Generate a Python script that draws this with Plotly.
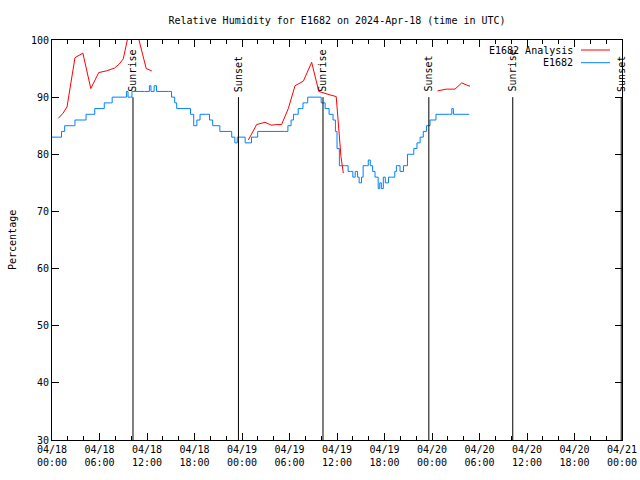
import plotly.graph_objects as go

# Hours since 2024-04-18 00:00 UTC
obs_hours = [0, 0.8, 1.2, 1.6, 2.7, 2.9, 3.9, 4.3, 5.0, 5.4, 6.3, 6.6, 7.4, 7.6, 9.2, 9.4, 9.6, 9.9,
             10.1, 11.7, 12.0, 12.3, 12.5, 12.9, 13.2, 14.7, 15.1, 15.5, 15.75, 17.2, 17.5, 17.9,
             18.3, 18.7, 19.5, 19.9, 20.3, 20.7, 21.2, 22.5, 22.7, 23.1, 23.4, 24.0, 24.4, 25.0,
             25.2, 25.6, 25.98, 29.4, 29.8, 30.2, 30.5, 30.9, 31.1, 31.5, 31.7, 32.0, 32.3, 33.6,
             34.0, 34.5, 35.0, 35.5, 35.8, 36.0, 36.3, 36.6, 36.9, 37.1, 37.4, 37.7, 38.0, 38.3,
             38.6, 38.8, 39.1, 39.3, 39.75, 39.95, 40.2, 40.5, 40.8, 41.2, 41.4, 41.6, 41.85, 42.1,
             42.5, 42.9, 43.3, 43.5, 43.96, 44.4, 44.9, 45.2, 45.7, 46.1, 46.5, 46.9, 47.3, 47.75,
             48.5, 50.2, 50.5, 50.7, 52.7]
obs_values = [83, 83, 84, 85, 85, 86, 86, 87, 87, 88, 88, 89, 89, 90, 90, 91, 90, 90,
              91, 91, 91, 92, 91, 92, 91, 91, 90, 89, 88, 88, 87, 85,
              86, 87, 87, 86, 85, 85, 84, 84, 83, 82, 83, 83, 82, 82,
              83, 83, 84, 84, 85, 86, 87, 87, 88, 88, 89, 89, 90, 90,
              89, 88, 87, 86, 84, 81, 78, 78, 78, 78, 77, 77, 76, 77,
              76, 75, 76, 78, 78, 79, 78, 77, 76, 74, 75, 74, 76, 75,
              76, 76, 77, 78, 77, 78, 80, 80, 81, 82, 83, 84, 85, 86,
              87, 87, 88, 87, 87]

ana_hours = [0.8, 1.4, 1.9, 2.9, 3.9, 4.9, 5.9, 6.9, 7.9, 8.5, 9.0, 9.9, 10.9, 11.9, 12.6, None,
             24.8, 25.85, 26.9, 27.7, 28.4, 29.0, 29.85, 30.7, 31.75, 32.8, 33.7, 34.3, 35.1, 35.9,
             36.2, 36.5, 36.8, None,
             48.7, 49.2, 49.8, 50.9, 51.45, 51.75, 52.4, 52.8]
ana_values = [86.3, 87.2, 88.3, 96.9, 97.7, 91.5, 94.3, 94.6, 95.1, 95.8, 96.7, 102.5, 100.5, 95.0, 94.6, None,
              82.5, 85.2, 85.6, 85.1, 85.2, 85.2, 88.0, 92.0, 92.8, 96.1, 91.0, 90.7, 90.4, 90.1,
              84.5, 79.6, 76.7, None,
              91.1, 91.25, 91.4, 91.4, 92.1, 92.5, 92.1, 91.9]

sun_hours = [10.23, 23.55, 34.23, 47.6, 58.2, 71.9]
sun_labels = ["Sunrise", "Sunset", "Sunrise", "Sunset", "Sunrise", "Sunset"]

tick_hours = [0, 6, 12, 18, 24, 30, 36, 42, 48, 54, 60, 66, 72]
tick_labels = ["04/18<br>00:00", "04/18<br>06:00", "04/18<br>12:00", "04/18<br>18:00",
               "04/19<br>00:00", "04/19<br>06:00", "04/19<br>12:00", "04/19<br>18:00",
               "04/20<br>00:00", "04/20<br>06:00", "04/20<br>12:00", "04/20<br>18:00",
               "04/21<br>00:00"]

FONT = "DejaVu Sans Mono"
RED = "#ff0000"
BLUE = "#0080ff"

fig = go.Figure()
fig.add_trace(go.Scatter(x=ana_hours, y=ana_values, mode="lines", line=dict(color=RED, width=1),
                         name="E1682 Analysis", connectgaps=False))
fig.add_trace(go.Scatter(x=obs_hours, y=obs_values, mode="lines",
                         line=dict(color=BLUE, width=1, shape="hv"), name="E1682"))

for h, lab in zip(sun_hours, sun_labels):
    fig.add_shape(type="line", xref="x", yref="y", x0=h, x1=h, y0=30, y1=90,
                  line=dict(color="black", width=1))
    fig.add_annotation(x=h, y=90.6, xref="x", yref="y", text=lab, textangle=-90,
                       showarrow=False, xanchor="center", yanchor="bottom",
                       font=dict(family=FONT, size=10, color="black"))

# Legend (text left of sample line, as in the original)
legend_names = ["E1682 Analysis", "E1682"]
legend_colors = [RED, BLUE]
for i, (nm, col) in enumerate(zip(legend_names, legend_colors)):
    ypx = 50 + i * 12.7
    yp = (440 - ypx) / 400
    fig.add_annotation(x=(575 - 52) / 570, y=yp, xref="paper", yref="paper", text=nm,
                       showarrow=False, xanchor="right", yanchor="middle",
                       font=dict(family=FONT, size=10, color="black"))
    fig.add_shape(type="line", xref="paper", yref="paper", x0=(581 - 52) / 570,
                  x1=(610 - 52) / 570, y0=yp, y1=yp, line=dict(color=col, width=1))

fig.add_annotation(x=(12 - 52) / 570, y=0.5, xref="paper", yref="paper", text="Percentage",
                   textangle=-90, showarrow=False, xanchor="center", yanchor="middle",
                   font=dict(family=FONT, size=10, color="black"))

fig.update_layout(
    width=640, height=480,
    margin=dict(l=52, r=18, t=40, b=40, autoexpand=False),
    paper_bgcolor="white", plot_bgcolor="white",
    showlegend=False,
    font=dict(family=FONT, size=10, color="black"),
    title=dict(text="Relative Humidity for E1682 on 2024-Apr-18 (time in UTC)",
               x=0.5, xref="paper", xanchor="center", y=1 - 20 / 480, yanchor="middle",
               font=dict(family=FONT, size=10, color="black")),
    xaxis=dict(range=[0, 72], tickvals=tick_hours, ticktext=tick_labels, automargin=False,
               ticks="inside", ticklen=7, tickcolor="black", mirror="ticks",
               showline=True, linecolor="black", linewidth=1, showgrid=False, zeroline=False,
               minor=dict(dtick=2, tick0=0, ticks="inside", ticklen=4, tickcolor="black"),
               tickfont=dict(family=FONT, size=10, color="black")),
    yaxis=dict(range=[30, 100], dtick=10, tick0=30, automargin=False,
               ticks="inside", ticklen=7, tickcolor="black", mirror="ticks",
               showline=True, linecolor="black", linewidth=1, showgrid=False, zeroline=False,
               tickfont=dict(family=FONT, size=10, color="black")),
)

fig.write_html("out.html")
